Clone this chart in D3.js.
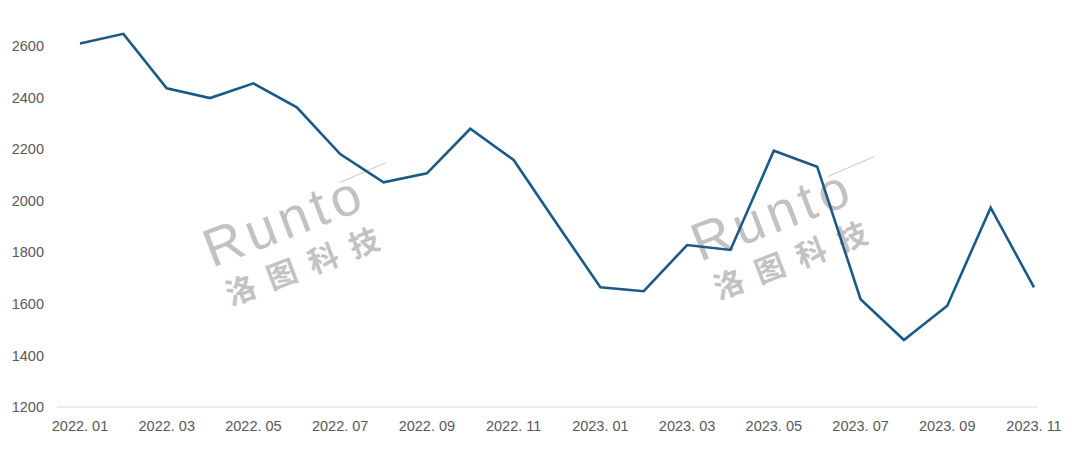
<!DOCTYPE html>
<html><head><meta charset="utf-8">
<script src="https://cdn.jsdelivr.net/npm/d3@7/dist/d3.min.js"></script>
<style>body{margin:0;background:#fff}svg{display:block}</style>
</head><body><svg id="c" width="1080" height="457"></svg>
<script>
const months = ["2022.01","2022.02","2022.03","2022.04","2022.05","2022.06","2022.07","2022.08","2022.09","2022.10","2022.11","2022.12",
"2023.01","2023.02","2023.03","2023.04","2023.05","2023.06","2023.07","2023.08","2023.09","2023.10","2023.11"];
const values = [2610,2647,2436,2398,2455,2362,2181,2071,2106,2279,2158,1910,1664,1649,1828,1809,2194,2132,1618,1460,1593,1973,1664];
const yTicks = [1200,1400,1600,1800,2000,2200,2400,2600];
const xLabels = months.filter((m,i)=>i%2===0);

const svg = d3.select("#c");
const x = d3.scalePoint().domain(months).range([80,1034]);
const y = d3.scaleLinear().domain([1200,2800]).range([407,-5.6]);

// watermarks
function watermark(cx, cy){
  const g = svg.append("g").attr("transform",`translate(${cx},${cy}) rotate(-21)`).attr("fill","#c2c2c2");
  g.append("text").attr("x",0).attr("y",0).attr("font-family","Liberation Sans, sans-serif").attr("font-size",54)
    .attr("letter-spacing",5).text("Runto");
  g.append("line").attr("x1",150).attr("y1",-34).attr("x2",200).attr("y2",-36).attr("stroke","#cfcfcf").attr("stroke-width",1.2);
  g.append("text").attr("x",4).attr("y",42).attr("font-family","Noto Sans CJK SC").attr("font-weight",700).attr("font-size",30)
    .attr("letter-spacing",14).text("洛图科技");
}
watermark(212,268);
watermark(700,262);

// axis line
svg.append("line").attr("x1",57).attr("x2",1038).attr("y1",y(1200)).attr("y2",y(1200)).attr("stroke","#d9d9d9").attr("stroke-width",1);

// y labels
svg.append("g").selectAll("text").data(yTicks).join("text")
  .attr("x",44).attr("y",d=>y(d)).attr("dy","0.36em").attr("text-anchor","end")
  .attr("font-family","Liberation Sans, sans-serif").attr("font-size",14.5).attr("fill","#595959").text(d=>d);

// x labels
svg.append("g").selectAll("text").data(xLabels).join("text")
  .attr("x",d=>x(d)).attr("y",426).attr("dy","0.36em").attr("text-anchor","middle")
  .attr("font-family","Liberation Sans, sans-serif").attr("font-size",14.5).attr("fill","#595959")
  .text(d=>d.replace(".",". "));

// line
const line = d3.line().x((d,i)=>x(months[i])).y(d=>y(d));
svg.append("path").datum(values).attr("d",line).attr("fill","none").attr("stroke","#1A5A88").attr("stroke-width",2.6).attr("stroke-linejoin","miter");
</script></body></html>
